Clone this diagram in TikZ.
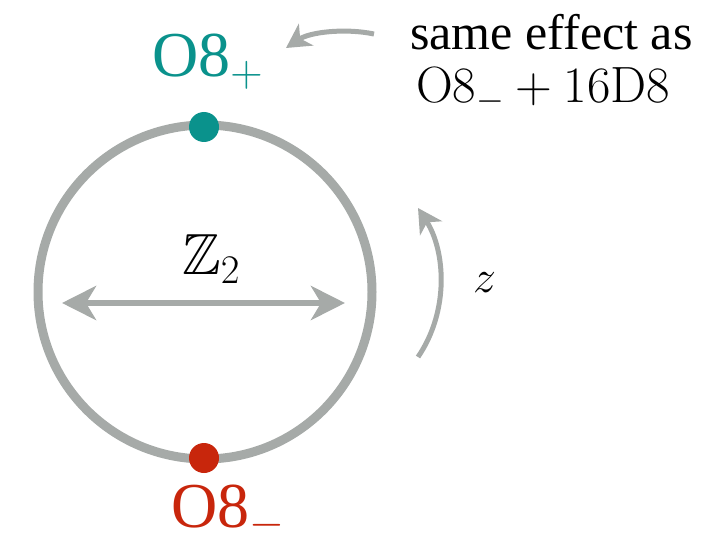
\RequirePackage{fix-cm}
\documentclass[tikz,border=0pt]{standalone}
\usepackage{amssymb}
\usepackage[no-math]{fontspec}
\setmainfont{Liberation Serif}
\usetikzlibrary{arrows.meta}
\definecolor{ringgray}{RGB}{166,170,168}
\definecolor{tealc}{RGB}{10,146,140}
\definecolor{redc}{RGB}{200,38,12}
\tikzset{
  ring/.style={draw=ringgray, line width=9pt},
  dotnode/.style={circle, inner sep=0pt, minimum size=30pt},
  grayarrow/.style={draw=ringgray, line width=5pt, -{Stealth[length=24pt,width=26pt,inset=7pt]}},
  bigarrow/.style={draw=ringgray, line width=6pt, {Stealth[length=34pt,width=34pt,inset=10pt]}-{Stealth[length=34pt,width=34pt,inset=10pt]}},
  lbl/.style={inner sep=0pt, anchor=base west}
}
\begin{document}
\begin{tikzpicture}[x=1pt,y=-1pt]
\useasboundingbox (0,0) rectangle (723,540);
\coordinate (c) at (205,292);
\draw[ring] (c) circle[radius=167];
\node[dotnode, fill=tealc] (top) at (204,127) {};
\node[dotnode, fill=redc] (bot) at (204,458) {};
\coordinate (L) at (62,303);
\coordinate (R) at (345,303);
\draw[bigarrow] (L) -- (R);
\node[lbl] (z2) at (182,275) {\fontsize{58}{60}\selectfont$\mathbb{Z}_2$};
\coordinate (zs) at (418,357);
\coordinate (ze) at (418,208);
\draw[grayarrow] (zs) .. controls (450,310) and (445,250) .. (ze);
\node[lbl] (zl) at (473,292) {\fontsize{46}{48}\selectfont$z$};
\node[lbl, text=tealc] (oplus) at (152,77) {\fontsize{64}{66}\selectfont O8$_+$};
\node[lbl, text=redc] (ominus) at (171,527) {\fontsize{64}{66}\selectfont O8$_-$};
\node[lbl] (same) at (410,50) {\fontsize{50}{52}\selectfont same effect as};
\node[lbl] (eq) at (416,103) {\fontsize{51}{54}\selectfont$\mathrm{O8}_- + 16\mathrm{D8}$};
\coordinate (as) at (374,34);
\coordinate (ae) at (286,48);
\draw[grayarrow] (as) .. controls (345,28) and (310,32) .. (ae);
\end{tikzpicture}
\end{document}
